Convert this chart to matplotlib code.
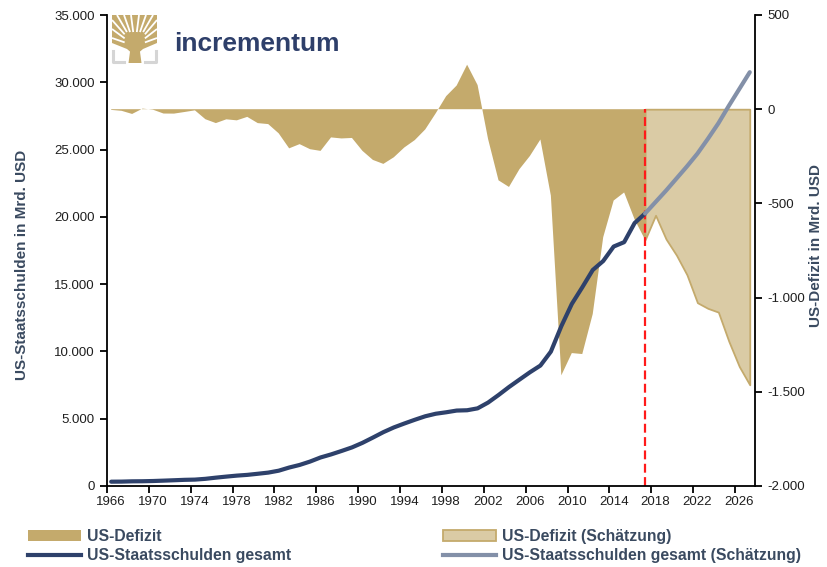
import matplotlib
matplotlib.use("Agg")
import matplotlib.pyplot as plt
from matplotlib.patches import Patch, Polygon
from matplotlib.lines import Line2D
from matplotlib.transforms import Affine2D

plt.rcParams['font.family'] = ['Liberation Sans', 'DejaVu Sans']

# ---------------- data ----------------
hist_years = list(range(1966, 2018))
hist_deficit = [-3.7, -8.6, -25.2, 3.2, -2.8, -23.0, -23.4, -14.9, -6.1, -53.2,
                -73.7, -53.7, -59.2, -40.7, -73.8, -79.0, -128.0, -207.8, -185.4, -212.3,
                -221.2, -149.7, -155.2, -152.6, -221.0, -269.2, -290.3, -255.1, -203.2, -164.0,
                -107.4, -21.9, 69.3, 125.6, 236.2, 128.2, -157.8, -377.6, -412.7, -318.3,
                -248.2, -160.7, -458.6, -1412.7, -1294.4, -1299.6, -1087.0, -679.5, -484.6, -441.9,
                -584.7, -693.0]
hist_debt = [320.4, 326.2, 347.6, 353.7, 370.9, 398.1, 427.3, 458.1, 475.1, 533.2,
             620.4, 698.8, 771.5, 826.5, 909.0, 994.8, 1137.3, 1371.7, 1564.6, 1817.4,
             2120.5, 2346.0, 2601.1, 2867.8, 3206.3, 3598.2, 4001.8, 4351.0, 4643.3, 4920.6,
             5181.5, 5369.2, 5478.2, 5605.5, 5628.7, 5769.9, 6198.4, 6760.0, 7354.7, 7905.3,
             8451.4, 8950.7, 9986.1, 11875.9, 13528.8, 14764.2, 16050.9, 16719.4, 17794.5, 18120.1,
             19539.5, 20250.0]

est_years = list(range(2017, 2028))
est_deficit = [-693, -563, -689, -775, -879, -1027, -1057, -1077, -1232, -1366, -1463]
est_debt = [20250, 21100, 21950, 22850, 23750, 24700, 25800, 26950, 28250, 29500, 30750]

forecast_start = 2017

x_tick_years = list(range(1966, 2027, 4))
left_ticks = [0, 5000, 10000, 15000, 20000, 25000, 30000, 35000]
left_tick_labels = ['0', '5.000', '10.000', '15.000', '20.000', '25.000', '30.000', '35.000']
right_ticks = [-2000, -1500, -1000, -500, 0, 500]
right_tick_labels = ['-2.000', '-1.500', '-1.000', '-500', '0', '500']

label_deficit = 'US-Defizit'
label_deficit_est = 'US-Defizit (Schätzung)'
label_debt = 'US-Staatsschulden gesamt'
label_debt_est = 'US-Staatsschulden gesamt (Schätzung)'
ylabel_left = 'US-Staatsschulden in Mrd. USD'
ylabel_right = 'US-Defizit in Mrd. USD'

# ---------------- style ----------------
GOLD = '#C4AA6C'
GOLD_LIGHT = '#DACBA5'
NAVY = '#2E416B'
GREY = '#8390A8'
SLATE = '#3A4A60'
TXT = '#1E1E1E'

W, H = 827, 567
fig = plt.figure(figsize=(W / 100, H / 100), dpi=100)
L, R, T, B = 107, 755, 15, 486
ax = fig.add_axes([L / W, 1 - B / H, (R - L) / W, (B - T) / H])
ax2 = ax.twinx()

# deficit areas on right axis
ax2.fill_between(hist_years, hist_deficit, 0, facecolor=GOLD, edgecolor='none', linewidth=0, zorder=1)
ax2.fill_between(est_years, est_deficit, 0, facecolor=GOLD_LIGHT, edgecolor=GOLD, linewidth=1.3, zorder=1)
ax2.vlines(forecast_start, -2000, 0, colors='#FF1A1A', linestyles=(0, (4, 2)), linewidth=1.6, zorder=3)
ax2.set_ylim(-2000, 500)
ax2.set_yticks(right_ticks)
ax2.set_yticklabels(right_tick_labels)

# debt lines on left axis, drawn on top
ax.set_zorder(ax2.get_zorder() + 1)
ax.patch.set_visible(False)
ax.plot(hist_years, hist_debt, color=NAVY, linewidth=3.0, solid_capstyle='round', zorder=4)
ax.plot(est_years, est_debt, color=GREY, linewidth=3.0, solid_capstyle='round', zorder=4)
ax.set_ylim(0, 35000)
ax.set_yticks(left_ticks)
ax.set_yticklabels(left_tick_labels)
ax.set_xlim(1965.6, 2027.5)
ax.set_xticks(x_tick_years)
ax.set_xticklabels([str(y) for y in x_tick_years])
ax.set_xticks([y - 0.4 for y in x_tick_years], minor=True)
ax.tick_params(axis='x', which='major', length=0, pad=7, labelsize=9.5, labelcolor=TXT)
ax.tick_params(axis='x', which='minor', length=5, width=1.3, direction='out')
ax.tick_params(axis='y', length=5, width=1.3, direction='out', pad=4, labelsize=9.5, labelcolor=TXT)
ax2.tick_params(axis='y', length=5, width=1.3, direction='out', pad=4, labelsize=9.5, labelcolor=TXT)

for a in (ax, ax2):
    a.spines['top'].set_visible(False)
    for s in ('left', 'right', 'bottom'):
        a.spines[s].set_linewidth(1.3)
ax.spines['right'].set_visible(False)
ax2.spines['left'].set_visible(False)
ax2.spines['bottom'].set_visible(False)

ax.set_ylabel(ylabel_left, fontsize=11, fontweight='bold', color=SLATE)
ax.yaxis.set_label_coords(-0.121, 0.47)
ax2.set_ylabel(ylabel_right, fontsize=11, fontweight='bold', color=SLATE, rotation=90)
ax2.yaxis.set_label_coords(1.083, 0.51)

# ---------------- legend ----------------
handles = [Patch(facecolor=GOLD, edgecolor='none'),
           Line2D([0], [0], color=NAVY, linewidth=3.0),
           Patch(facecolor=GOLD_LIGHT, edgecolor=GOLD, linewidth=1.3),
           Line2D([0], [0], color=GREY, linewidth=3.0)]
labels = [label_deficit, label_debt, label_deficit_est, label_debt_est]
leg_kw = dict(loc='center left', frameon=False, prop={'size': 11.3, 'weight': 'bold'},
              handlelength=3.4, handleheight=0.7, handletextpad=0.35, labelspacing=0.3,
              borderpad=0, borderaxespad=0)
leg1 = fig.legend(handles[:2], labels[:2], bbox_to_anchor=(28 / W, 1 - 546 / H), **leg_kw)
leg2 = fig.legend(handles[2:], labels[2:], bbox_to_anchor=(443 / W, 1 - 546 / H), **leg_kw)
for lg in (leg1, leg2):
    for t in lg.get_texts():
        t.set_color(SLATE)

# ---------------- logo ----------------
px = Affine2D().scale(1 / 100, -1 / 100).translate(0, H / 100) + fig.dpi_scale_trans
crown = Polygon([(112, 15), (157, 15), (157, 43), (143, 49), (139.5, 52), (130.5, 52),
                 (127, 49), (112, 43)], closed=True, facecolor=GOLD, edgecolor='none', transform=px)
fig.patches.append(crown)
trunk = Polygon([(128.5, 63), (141.5, 63), (139.5, 48), (130.5, 48)], closed=True,
                facecolor=GOLD, edgecolor='none', transform=px)
fig.patches.append(trunk)
gap_ends = [(112, 38), (112, 29), (112, 20), (117, 15), (124, 15), (131, 15),
            (139, 15), (146, 15), (153, 15), (157, 20), (157, 29), (157, 38)]
for (ex, ey) in gap_ends:
    sx = 135 + (ex - 135) * 0.45
    sy = 46 + (ey - 46) * 0.45
    fig.lines.append(Line2D([sx, ex], [sy, ey], color='white', linewidth=1.3,
                            solid_capstyle='butt', transform=px))
fig.lines.append(Line2D([113, 113, 124], [51, 61.5, 61.5], color='#D5D5D5', linewidth=2.2, transform=px))
fig.lines.append(Line2D([156, 156, 145], [51, 61.5, 61.5], color='#D5D5D5', linewidth=2.2, transform=px))
fig.text(174 / W, 1 - 51 / H, 'incrementum', fontsize=19, fontweight='bold',
         color='#2E3F6A', ha='left', va='baseline')

fig.savefig('out.png', dpi=100)
